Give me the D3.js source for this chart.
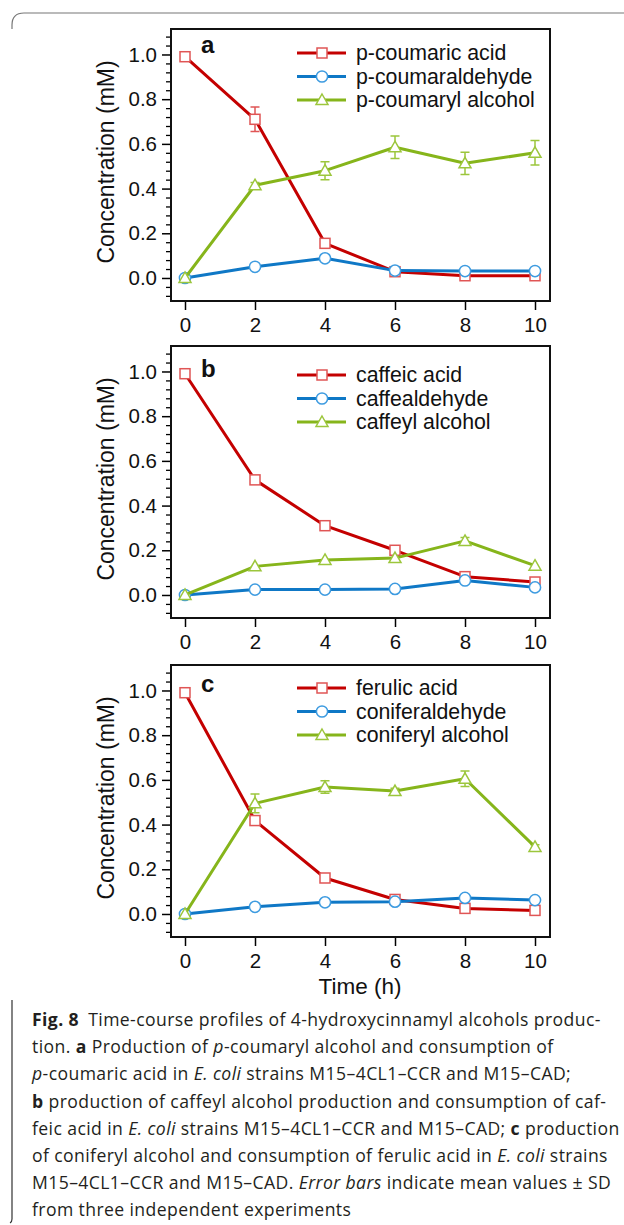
<!DOCTYPE html>
<html>
<head>
<meta charset="utf-8">
<script src="https://cdn.jsdelivr.net/npm/d3@7"></script>
<style>
  body { margin: 0; background: #fff; }
  svg { display: block; }
</style>
</head>
<body>
<script>
// time points (h)
var times = [0, 2, 4, 6, 8, 10];
var yMajorTicks = [0, 0.2, 0.4, 0.6, 0.8, 1.0];

// panel a
var namesA = ['p-coumaric acid', 'p-coumaraldehyde', 'p-coumaryl alcohol'];
var coumaricAcid      = [0.99, 0.71, 0.155, 0.028, 0.01, 0.01];
var coumaricAcidSD    = [0, 0.055, 0, 0, 0, 0];
var coumaraldehyde    = [0, 0.05, 0.088, 0.033, 0.031, 0.031];
var coumaraldehydeSD  = [0, 0, 0, 0, 0, 0];
var coumarylAlcohol   = [0, 0.415, 0.48, 0.585, 0.513, 0.56];
var coumarylAlcoholSD = [0, 0.012, 0.04, 0.05, 0.05, 0.055];

// panel b
var namesB = ['caffeic acid', 'caffealdehyde', 'caffeyl alcohol'];
var caffeicAcid      = [0.99, 0.515, 0.31, 0.2, 0.082, 0.058];
var caffeicAcidSD    = [0, 0, 0, 0, 0, 0];
var caffealdehyde    = [0, 0.024, 0.024, 0.027, 0.065, 0.034];
var caffealdehydeSD  = [0, 0, 0, 0, 0, 0];
var caffeylAlcohol   = [0, 0.128, 0.157, 0.165, 0.242, 0.131];
var caffeylAlcoholSD = [0, 0, 0, 0, 0.015, 0];

// panel c
var namesC = ['ferulic acid', 'coniferaldehyde', 'coniferyl alcohol'];
var ferulicAcid        = [0.99, 0.418, 0.161, 0.065, 0.025, 0.016];
var ferulicAcidSD      = [0, 0, 0, 0, 0, 0];
var coniferaldehyde    = [0, 0.032, 0.052, 0.055, 0.072, 0.062];
var coniferaldehydeSD  = [0, 0, 0, 0, 0, 0];
var coniferylAlcohol   = [0, 0.495, 0.568, 0.55, 0.605, 0.3];
var coniferylAlcoholSD = [0, 0.042, 0.028, 0.012, 0.035, 0.01];

var panels = [
  {letter: 'a', names: namesA, values: [coumaricAcid, coumaraldehyde, coumarylAlcohol],
   sd: [coumaricAcidSD, coumaraldehydeSD, coumarylAlcoholSD], top: 29, legendDy: 24, letterDy: 24},
  {letter: 'b', names: namesB, values: [caffeicAcid, caffealdehyde, caffeylAlcohol],
   sd: [caffeicAcidSD, caffealdehydeSD, caffeylAlcoholSD], top: 346, legendDy: 29, letterDy: 31},
  {letter: 'c', names: namesC, values: [ferulicAcid, coniferaldehyde, coniferylAlcohol],
   sd: [ferulicAcidSD, coniferaldehydeSD, coniferylAlcoholSD], top: 665, legendDy: 23, letterDy: 27}
];

var WIDTH = 624, HEIGHT = 1225;
var FRAME_L = 171, FRAME_R = 550, PLOT_H = 272;
var lineColors = ['#c40000', '#0f78c6', '#86b51b'];
var markColors = ['#e05555', '#3d9be0', '#9cc63c'];
var shapes = ['square', 'circle', 'triangle'];
var FONT = 'Liberation Sans, Arial, sans-serif';

var svg = d3.select('body').append('svg')
  .attr('width', WIDTH)
  .attr('height', HEIGHT);

// card border bits
svg.append('path')
  .attr('d', 'M12,29 V25 Q12,13 24,13 H624')
  .attr('fill', 'none').attr('stroke', '#777').attr('stroke-width', 1.2);
svg.append('path')
  .attr('d', 'M12,1000 V1219 Q12,1222 10,1223')
  .attr('fill', 'none').attr('stroke', '#333').attr('stroke-width', 1.2);

var x = d3.scaleLinear().domain([0, 10]).range([185, 535]);

function marker(g, shape, cx, cy, color) {
  if (shape === 'square') {
    g.append('rect').attr('x', cx - 5).attr('y', cy - 5).attr('width', 10).attr('height', 10)
      .attr('fill', '#fff').attr('stroke', color).attr('stroke-width', 1.5);
  } else if (shape === 'circle') {
    g.append('circle').attr('cx', cx).attr('cy', cy).attr('r', 5.6)
      .attr('fill', '#fff').attr('stroke', color).attr('stroke-width', 1.5);
  } else {
    g.append('path')
      .attr('d', 'M' + cx + ',' + (cy - 6) + ' L' + (cx + 6) + ',' + (cy + 4.5) + ' L' + (cx - 6) + ',' + (cy + 4.5) + ' Z')
      .attr('fill', '#fff').attr('stroke', color).attr('stroke-width', 1.5);
  }
}

panels.forEach(function(p) {
  var top = p.top, bottom = top + PLOT_H;
  var y = d3.scaleLinear().domain([-0.103, 1.114]).range([bottom, top]);
  var g = svg.append('g');

  // minor ticks
  var minor = d3.range(-2, 28).map(function(i) { return +(i * 0.04).toFixed(2); })
    .filter(function(v) { return Math.abs(v * 5 - Math.round(v * 5)) > 1e-6; });
  g.append('g').attr('transform', 'translate(' + FRAME_L + ',0)')
    .call(d3.axisLeft(y).tickValues(minor).tickSize(5).tickFormat(''))
    .call(function(s) { s.select('.domain').remove(); s.selectAll('line').attr('stroke-width', 1.3); });

  // major y ticks
  g.append('g').attr('transform', 'translate(' + FRAME_L + ',0)')
    .call(d3.axisLeft(y).tickValues(yMajorTicks).tickSize(9).tickPadding(5).tickFormat(d3.format('.1f')))
    .call(function(s) {
      s.select('.domain').remove();
      s.selectAll('line').attr('stroke-width', 1.5);
      s.selectAll('text').attr('font-family', FONT).attr('font-size', 20.5).attr('fill', '#111');
    });

  // x ticks
  g.append('g').attr('transform', 'translate(0,' + bottom + ')')
    .call(d3.axisBottom(x).tickValues(times).tickSize(9).tickPadding(7))
    .call(function(s) {
      s.select('.domain').remove();
      s.selectAll('line').attr('stroke-width', 1.5);
      s.selectAll('text').attr('font-family', FONT).attr('font-size', 20.5).attr('fill', '#111');
    });

  // frame
  g.append('rect').attr('x', FRAME_L).attr('y', top)
    .attr('width', FRAME_R - FRAME_L).attr('height', PLOT_H)
    .attr('fill', 'none').attr('stroke', '#111').attr('stroke-width', 2);

  // y label
  g.append('text')
    .attr('transform', 'translate(114,' + (top + PLOT_H / 2 - 3) + ') rotate(-90)')
    .attr('text-anchor', 'middle')
    .attr('font-family', FONT).attr('font-size', 23).attr('fill', '#111')
    .text('Concentration (mM)');

  // panel letter
  g.append('text').attr('x', 201).attr('y', top + p.letterDy)
    .attr('font-family', FONT).attr('font-size', 24).attr('font-weight', 'bold').attr('fill', '#111')
    .text(p.letter);

  var line = d3.line().x(function(d, i) { return x(times[i]); }).y(function(d) { return y(d); });

  p.values.forEach(function(vals, k) {
    var sg = g.append('g');
    // error bars
    vals.forEach(function(v, i) {
      var s = p.sd[k][i];
      if (!s) return;
      var cx = x(times[i]);
      sg.append('path')
        .attr('d', 'M' + cx + ',' + y(v - s) + 'V' + y(v + s) +
                   'M' + (cx - 4.5) + ',' + y(v - s) + 'H' + (cx + 4.5) +
                   'M' + (cx - 4.5) + ',' + y(v + s) + 'H' + (cx + 4.5))
        .attr('fill', 'none').attr('stroke', markColors[k]).attr('stroke-width', 1.5);
    });
    sg.append('path').datum(vals).attr('d', line)
      .attr('fill', 'none').attr('stroke', lineColors[k]).attr('stroke-width', 3)
      .attr('stroke-linejoin', 'round');
    vals.forEach(function(v, i) { marker(sg, shapes[k], x(times[i]), y(v), markColors[k]); });
  });

  // legend
  p.names.forEach(function(name, k) {
    var ly = top + p.legendDy + k * 23.5;
    g.append('line').attr('x1', 297).attr('x2', 346).attr('y1', ly).attr('y2', ly)
      .attr('stroke', lineColors[k]).attr('stroke-width', 3);
    marker(g, shapes[k], 322, ly, markColors[k]);
    g.append('text').attr('x', 356).attr('y', ly).attr('dy', '0.35em')
      .attr('font-family', FONT).attr('font-size', 21.3).attr('fill', '#111')
      .text(name);
  });
});

// x axis title
svg.append('text').attr('x', 360).attr('y', 994).attr('text-anchor', 'middle')
  .attr('font-family', FONT).attr('font-size', 22.5).attr('fill', '#111')
  .text('Time (h)');

// caption
var captionLines = [
  [['b', 'Fig. 8'], ['', '\u2002Time-course profiles of 4-hydroxycinnamyl alcohols produc-']],
  [['', 'tion. '], ['b', 'a'], ['', ' Production of '], ['i', 'p'], ['', '-coumaryl alcohol and consumption of']],
  [['i', 'p'], ['', '-coumaric acid in '], ['i', 'E. coli'], ['', ' strains M15\u20134CL1\u2013CCR and M15\u2013CAD;']],
  [['b', 'b'], ['', ' production of caffeyl alcohol production and consumption of caf-']],
  [['', 'feic acid in '], ['i', 'E. coli'], ['', ' strains M15\u20134CL1\u2013CCR and M15\u2013CAD; '], ['b', 'c'], ['', ' production']],
  [['', 'of coniferyl alcohol and consumption of ferulic acid in '], ['i', 'E. coli'], ['', ' strains']],
  [['', 'M15\u20134CL1\u2013CCR and M15\u2013CAD. '], ['i', 'Error bars'], ['', ' indicate mean values \u00b1 SD']],
  [['', 'from three independent experiments']]
];

var cap = svg.append('text')
  .attr('font-family', 'Open Sans, Noto Sans, sans-serif')
  .attr('font-size', 17.6).attr('letter-spacing', 0.4).attr('fill', '#231f20')
  .attr('xml:space', 'preserve');

captionLines.forEach(function(parts, li) {
  var t = cap.append('tspan').attr('x', 32).attr('y', 1026 + li * 27.2);
  parts.forEach(function(pt, j) {
    var ts = (j === 0) ? t : cap.append('tspan');
    ts.text(pt[1]);
    if (pt[0] === 'b') ts.attr('font-weight', 'bold');
    if (pt[0] === 'i') ts.attr('font-style', 'italic');
  });
});
</script>
</body>
</html>
